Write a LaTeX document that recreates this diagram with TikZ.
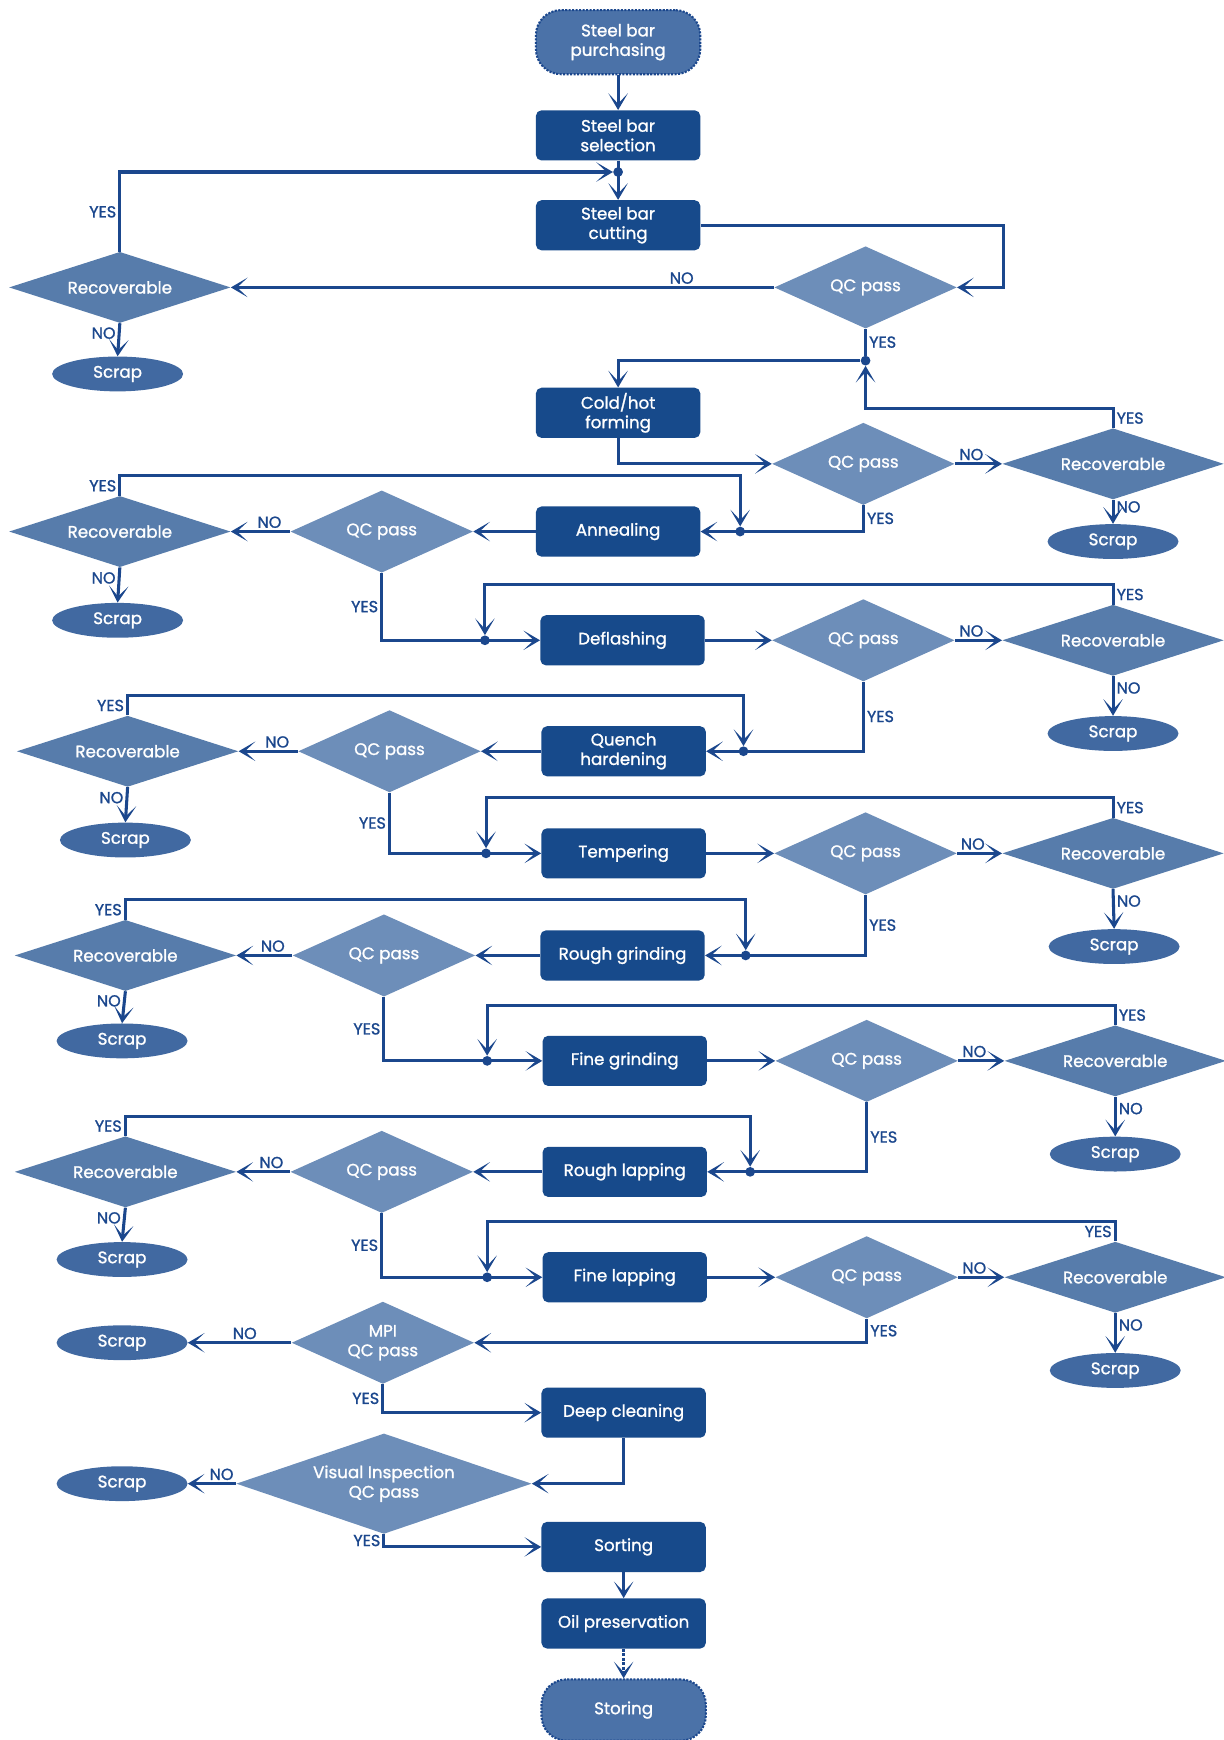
\documentclass[tikz,border=0pt]{standalone}
\usepackage{fontspec}
\setmainfont{Poppins}
\newfontfamily\medfont{Poppins}[FakeBold=1.2]
\usepackage{tikz}
\usetikzlibrary{shapes.geometric,arrows.meta,positioning,calc}
\definecolor{boxblue}{HTML}{174A8B}
\definecolor{qcblue}{HTML}{6D8EB9}
\definecolor{recblue}{HTML}{577CAB}
\definecolor{scrapblue}{HTML}{4169A1}
\definecolor{termblue}{HTML}{4B72A8}
\definecolor{lineblue}{HTML}{1B478D}
\tikzset{proc/.style={rectangle, rounded corners=4pt, fill=boxblue, text=white, align=center, minimum width=118pt, minimum height=36pt, inner sep=2pt, font=\medfont\fontsize{12}{14}\selectfont}}
\tikzset{term/.style={proc, fill=termblue, draw=lineblue, densely dotted, line width=1.5pt, rounded corners=18pt, minimum height=46pt}}
\tikzset{qc/.style={diamond, aspect=2.2, fill=qcblue, text=white, align=center, minimum width=131pt, minimum height=59pt, inner sep=1pt, font=\medfont\fontsize{12}{14}\selectfont}}
\tikzset{rec/.style={qc, aspect=3.1, fill=recblue, minimum width=159pt, minimum height=51pt}}
\tikzset{scrap/.style={ellipse, fill=scrapblue, text=white, minimum width=94pt, minimum height=25pt, inner sep=1pt, font=\medfont\fontsize{12}{14}\selectfont}}
\tikzset{conn/.style={draw=lineblue, line width=2.2pt}}
\tikzset{line/.style={conn, -{Stealth[length=12pt,width=14pt,inset=7.5pt]}}}
\tikzset{jdot/.style={circle, fill=lineblue, inner sep=0pt, minimum size=7pt}}
\tikzset{lbl/.style={text=lineblue, inner sep=1.5pt, font=\medfont\fontsize{11.5}{13}\selectfont}}

\begin{document}
\begin{tikzpicture}[x=0.28mm, y=-0.28mm]
        \useasboundingbox (0,0) rectangle (1103,1568);
        % start
        \node [term]  (purch)   at (557,38)   {Steel bar\\purchasing};
        \node [proc]  (select)  at (557,122)  {Steel bar\\selection};
        \node [jdot]  (j0)      at (557,155)  {};
        \node [proc]  (cut)     at (557,203)  {Steel bar\\cutting};
        \node [qc]    (qc1)     at (780,259)  {QC pass};
        \node [rec]   (rec1)    at (108,259)  {Recoverable};
        \node [scrap] (scrap1)  at (106,337)  {Scrap};
        \node [jdot]  (j1)      at (780,325)  {};
        %
        \node [proc]  (form)    at (557,372)  {Cold/hot\\forming};
        \node [qc]    (qc2)     at (778,418)  {QC pass};
        \node [rec]   (rec2)    at (1003,418) {Recoverable};
        \node [scrap] (scrap2)  at (1003,488) {Scrap};
        %
        \node [proc]  (anneal)  at (557,479)  {Annealing};
        \node [qc]    (qc3)     at (344,479)  {QC pass};
        \node [rec]   (rec3)    at (108,479)  {Recoverable};
        \node [scrap] (scrap3)  at (106,559)  {Scrap};
        \node [jdot]  (ja)      at (667,479)  {};
        %
        \node [proc]  (deflash) at (561,577)  {Deflashing};
        \node [qc]    (qc4)     at (778,577)  {QC pass};
        \node [rec]   (rec4)    at (1003,577) {Recoverable};
        \node [scrap] (scrap4)  at (1003,661) {Scrap};
        \node [jdot]  (jb)      at (437,577)  {};
        %
        \node [proc]  (quench)  at (562,677)  {Quench\\hardening};
        \node [qc]    (qc5)     at (351,677)  {QC pass};
        \node [rec]   (rec5)    at (115,677)  {Recoverable};
        \node [scrap] (scrap5)  at (113,757)  {Scrap};
        \node [jdot]  (jc)      at (670,677)  {};
        %
        \node [proc]  (temper)  at (562,769)  {Tempering};
        \node [qc]    (qc6)     at (780,769)  {QC pass};
        \node [rec]   (rec6)    at (1003,769) {Recoverable};
        \node [scrap] (scrap6)  at (1004,853) {Scrap};
        \node [jdot]  (jd)      at (438,769)  {};
        %
        \node [proc]  (rgrind)  at (561,861)  {Rough grinding};
        \node [qc]    (qc7)     at (346,861)  {QC pass};
        \node [rec]   (rec7)    at (113,861)  {Recoverable};
        \node [scrap] (scrap7)  at (110,938)  {Scrap};
        \node [jdot]  (je)      at (672,861)  {};
        %
        \node [proc]  (fgrind)  at (563,956)  {Fine grinding};
        \node [qc]    (qc8)     at (781,956)  {QC pass};
        \node [rec]   (rec8)    at (1005,956) {Recoverable};
        \node [scrap] (scrap8)  at (1005,1040) {Scrap};
        \node [jdot]  (jf)      at (439,956)  {};
        %
        \node [proc]  (rlap)    at (563,1056) {Rough lapping};
        \node [qc]    (qc9)     at (344,1056) {QC pass};
        \node [rec]   (rec9)    at (113,1056) {Recoverable};
        \node [scrap] (scrap9)  at (110,1135) {Scrap};
        \node [jdot]  (jg)      at (676,1056) {};
        %
        \node [proc]  (flap)    at (563,1151) {Fine lapping};
        \node [qc]    (qc10)    at (781,1151) {QC pass};
        \node [rec]   (rec10)   at (1005,1151) {Recoverable};
        \node [scrap] (scrap10) at (1005,1235) {Scrap};
        \node [jdot]  (jh)      at (439,1151) {};
        %
        \node [qc]    (mpi)     at (345,1210) {MPI\\QC pass};
        \node [scrap] (scrap11) at (110,1210) {Scrap};
        \node [proc]  (deep)    at (562,1273) {Deep cleaning};
        \node [qc, aspect=3, minimum width=212pt, minimum height=72pt] (vis) at (346,1337) {Visual Inspection\\QC pass};
        \node [scrap] (scrap12) at (110,1337) {Scrap};
        \node [proc]  (sort)    at (562,1394) {Sorting};
        \node [proc]  (oil)     at (562,1463) {Oil preservation};
        \node [term, minimum height=44pt] (store) at (562,1541) {Storing};
        %
        \path [line] (purch) -- (select);
        \path [line] (select) -- (cut);
        \path [line] (rec1.north) |- node [lbl, pos=0.25, left] {YES} (j0);
        \path [line] (cut.east) -- ++(273,0) |- (qc1.east);
        \path [line] (qc1.west) -- node [lbl, pos=0.17, above] {NO} (rec1.east);
        \path [line] (rec1.south) -- node [lbl, pos=0.3, left] {NO} (scrap1.north);
        \path [conn] (qc1.south) -- node [lbl, right] {YES} (j1);
        \path [line] (j1) -| (form.north);
        \path [line] (rec2.north) -- node [lbl, right] {YES} ++(0,-18) -| (j1);
        %
        \path [line] (form.south) |- (qc2.west);
        \path [line] (qc2.east) -- node [lbl, pos=0.35, above] {NO} (rec2.west);
        \path [line] (rec2.south) -- node [lbl, pos=0.3, right] {NO} (scrap2.north);
        \path [line] (qc2.south) |- node [lbl, pos=0.25, right] {YES} (anneal.east);
        %
        \path [line] (anneal.west) -- (qc3.east);
        \path [line] (qc3.west) -- node [lbl, pos=0.35, above] {NO} (rec3.east);
        \path [line] (rec3.south) -- node [lbl, pos=0.3, left] {NO} (scrap3.north);
        \path [line] (rec3.north) -- node [lbl, left] {YES} ++(0,-18) -| (ja);
        \path [line] (qc3.south) |- node [lbl, pos=0.25, left] {YES} (deflash.west);
        %
        \path [line] (deflash.east) -- (qc4.west);
        \path [line] (qc4.east) -- node [lbl, pos=0.35, above] {NO} (rec4.west);
        \path [line] (rec4.south) -- node [lbl, pos=0.3, right] {NO} (scrap4.north);
        \path [line] (rec4.north) -- node [lbl, right] {YES} ++(0,-18) -| (jb);
        \path [line] (qc4.south) |- node [lbl, pos=0.25, right] {YES} (quench.east);
        %
        \path [line] (quench.west) -- (qc5.east);
        \path [line] (qc5.west) -- node [lbl, pos=0.35, above] {NO} (rec5.east);
        \path [line] (rec5.south) -- node [lbl, pos=0.3, left] {NO} (scrap5.north);
        \path [line] (rec5.north) -- node [lbl, left] {YES} ++(0,-18) -| (jc);
        \path [line] (qc5.south) |- node [lbl, pos=0.25, left] {YES} (temper.west);
        %
        \path [line] (temper.east) -- (qc6.west);
        \path [line] (qc6.east) -- node [lbl, pos=0.35, above] {NO} (rec6.west);
        \path [line] (rec6.south) -- node [lbl, pos=0.3, right] {NO} (scrap6.north);
        \path [line] (rec6.north) -- node [lbl, right] {YES} ++(0,-18) -| (jd);
        \path [line] (qc6.south) |- node [lbl, pos=0.25, right] {YES} (rgrind.east);
        %
        \path [line] (rgrind.west) -- (qc7.east);
        \path [line] (qc7.west) -- node [lbl, pos=0.35, above] {NO} (rec7.east);
        \path [line] (rec7.south) -- node [lbl, pos=0.3, left] {NO} (scrap7.north);
        \path [line] (rec7.north) -- node [lbl, left] {YES} ++(0,-18) -| (je);
        \path [line] (qc7.south) |- node [lbl, pos=0.25, left] {YES} (fgrind.west);
        %
        \path [line] (fgrind.east) -- (qc8.west);
        \path [line] (qc8.east) -- node [lbl, pos=0.35, above] {NO} (rec8.west);
        \path [line] (rec8.south) -- node [lbl, pos=0.3, right] {NO} (scrap8.north);
        \path [line] (rec8.north) -- node [lbl, right] {YES} ++(0,-18) -| (jf);
        \path [line] (qc8.south) |- node [lbl, pos=0.25, right] {YES} (rlap.east);
        %
        \path [line] (rlap.west) -- (qc9.east);
        \path [line] (qc9.west) -- node [lbl, pos=0.35, above] {NO} (rec9.east);
        \path [line] (rec9.south) -- node [lbl, pos=0.3, left] {NO} (scrap9.north);
        \path [line] (rec9.north) -- node [lbl, left] {YES} ++(0,-18) -| (jg);
        \path [line] (qc9.south) |- node [lbl, pos=0.25, left] {YES} (flap.west);
        %
        \path [line] (flap.east) -- (qc10.west);
        \path [line] (qc10.east) -- node [lbl, pos=0.35, above] {NO} (rec10.west);
        \path [line] (rec10.south) -- node [lbl, pos=0.3, right] {NO} (scrap10.north);
        \path [line] (rec10.north) -- node [lbl, left] {YES} ++(0,-18) -| (jh);
        \path [line] (qc10.south) |- node [lbl, pos=0.25, right] {YES} (mpi.east);
        %
        \path [line] (mpi.west) -- node [lbl, pos=0.45, above] {NO} (scrap11.east);
        \path [line] (mpi.south) |- node [lbl, pos=0.25, left] {YES} (deep.west);
        \path [line] (deep.south) |- (vis.east);
        \path [line] (vis.west) -- node [lbl, pos=0.3, above] {NO} (scrap12.east);
        \path [line] (vis.south) |- node [lbl, pos=0.25, left] {YES} (sort.west);
        \path [line] (sort) -- (oil);
        \path [line, densely dotted] (oil) -- (store);
\end{tikzpicture}
\end{document}
